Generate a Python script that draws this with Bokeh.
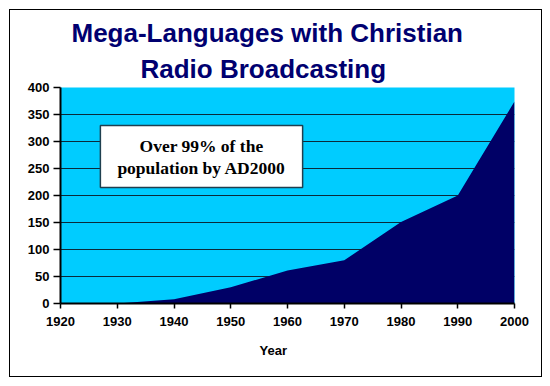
from bokeh.plotting import figure
from bokeh.models import Label, FixedTicker, Range1d, Title
from bokeh.embed import file_html
from bokeh.resources import INLINE

years = [1920, 1930, 1940, 1950, 1960, 1970, 1980, 1990, 2000]
languages = [0, 0, 8, 30, 61, 80, 151, 200, 374]
y_ticks = [0, 50, 100, 150, 200, 250, 300, 350, 400]
x_ticks = [1920, 1930, 1940, 1950, 1960, 1970, 1980, 1990, 2000]
title_lines = ["Mega-Languages with Christian", "Radio Broadcasting"]
x_label = "Year"
note_text = "Over 99% of the\npopulation by AD2000"

p = figure(width=533, height=368, output_backend="svg", toolbar_location=None,
           x_range=Range1d(1920, 2000), y_range=Range1d(0, 400),
           min_border_left=50, min_border_right=29, min_border_top=77, min_border_bottom=75)
p.margin = (9, 0, 0, 9)
p.styles = {"border": "1px solid black"}
p.background_fill_color = "#00CCFF"
p.border_fill_color = "white"
p.outline_line_color = None

p.varea(x=years, y1=[0] * len(years), y2=languages, fill_color="#000066")

p.xgrid.grid_line_color = None
p.ygrid.ticker = FixedTicker(ticks=y_ticks)
p.ygrid.grid_line_color = "#0A2A3A"
p.ygrid.grid_line_width = 1

for ax in (p.xaxis, p.yaxis):
    ax.axis_line_color = "black"
    ax.axis_line_width = 2
    ax.major_tick_line_color = "black"
    ax.major_tick_line_width = 1.5
    ax.major_tick_in = 0
    ax.minor_tick_line_color = None
    ax.major_label_text_font = "Liberation Sans"
    ax.major_label_text_font_style = "bold"
    ax.major_label_text_font_size = "13px"
    ax.major_label_text_color = "black"

p.xaxis.ticker = FixedTicker(ticks=x_ticks)
p.yaxis.ticker = FixedTicker(ticks=y_ticks)
p.xaxis.major_tick_out = 5
p.xaxis.major_label_standoff = 8
p.yaxis.major_tick_out = 7
p.yaxis.major_label_standoff = 4

# title lines: closest to the frame first
p.add_layout(Title(text=title_lines[1], align="left", offset=80, vertical_align="middle",
                   standoff=6, text_font="Liberation Sans", text_font_style="bold",
                   text_font_size="26px", text_color="#000070"), "above")
p.add_layout(Title(text=title_lines[0], align="left", offset=11, vertical_align="middle",
                   standoff=1, text_font="Liberation Sans", text_font_style="bold",
                   text_font_size="26px", text_color="#000070"), "above")

p.add_layout(Title(text=x_label, align="left", offset=199, vertical_align="middle",
                   standoff=27, text_font="Liberation Sans", text_font_style="bold",
                   text_font_size="13px", text_color="black"), "below")

p.add_layout(Label(x=141, y=147, x_units="screen", y_units="screen", text=note_text,
                   text_align="center", text_baseline="middle",
                   text_font="Liberation Serif", text_font_style="bold",
                   text_font_size="17.5px", text_color="black", text_line_height=1.1,
                   background_fill_color="white", border_line_color="#1F3F4F",
                   border_line_width=1.5, padding=(17, 10)))

open("out.html", "w").write(file_html(p, INLINE))
